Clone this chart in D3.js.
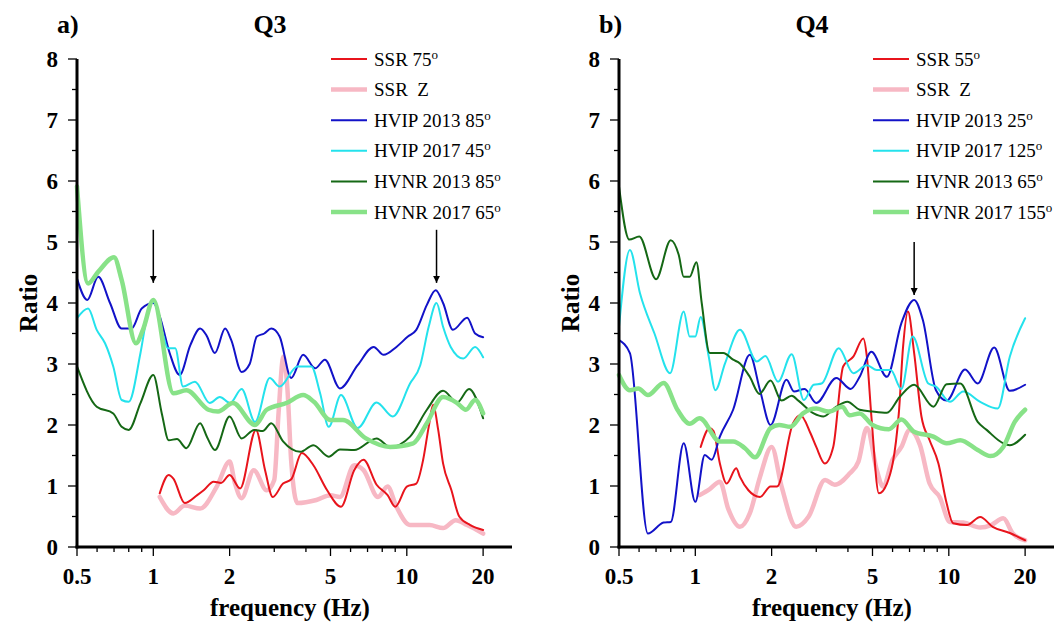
<!DOCTYPE html>
<html><head><meta charset="utf-8">
<script src="https://cdn.jsdelivr.net/npm/d3@7"></script>
<style>
body{margin:0;background:#fff}
svg{display:block}
text{font-family:"Liberation Serif","Times New Roman",serif;fill:#000}
</style>
</head><body>
<svg id="c" width="1055" height="624"></svg>
<script>
// ---------- tick values ----------
const xTicks = [0.5, 1, 2, 5, 10, 20];
const xMinorTicks = [0.6, 0.7, 0.8, 0.9, 3, 4, 6, 7, 8, 9];
const yTicks = [0, 1, 2, 3, 4, 5, 6, 7, 8];
const yMinorTicks = [0.5, 1.5, 2.5, 3.5, 4.5, 5.5, 6.5, 7.5];

// ---------- Q3 series [frequency, ratio] ----------
const q3Ssr75 = [[1.06,0.88],[1.15,1.18],[1.2,1.12],[1.33,0.72],[1.49,0.85],[1.58,0.93],[1.73,1.07],[1.85,1.05],[2.0,1.18],[2.2,0.96],[2.54,1.92],[2.76,1.26],[2.96,0.82],[3.25,1.04],[3.5,1.11],[3.85,1.54],[4.28,1.34],[4.85,0.93],[5.5,0.66],[6.2,1.26],[6.75,1.43],[7.6,1.02],[8.4,0.85],[9.0,0.66],[10.0,0.99],[10.9,1.04],[11.6,1.43],[12.2,1.97],[12.7,2.33],[13.3,1.92],[13.9,1.37],[15.0,0.93],[16.1,0.50],[17.8,0.36],[20,0.28]];
const q3SsrZ = [[1.06,0.82],[1.2,0.55],[1.33,0.68],[1.53,0.63],[1.78,0.99],[2.0,1.40],[2.1,1.04],[2.23,0.80],[2.49,1.26],[2.8,0.93],[3.0,1.1],[3.12,2.2],[3.26,3.12],[3.38,2.6],[3.5,1.4],[3.7,0.72],[4.4,0.77],[5.0,0.85],[5.45,0.82],[6.2,1.34],[6.75,1.26],[7.7,0.82],[8.4,0.99],[9.1,0.66],[10.3,0.36],[12.3,0.36],[13.9,0.31],[15.6,0.44],[17.3,0.36],[20,0.22]];
const q3Hvip2013 = [[0.5,4.40],[0.549,4.05],[0.606,4.43],[0.675,4.0],[0.75,3.58],[0.82,3.58],[0.90,3.91],[1.0,4.0],[1.06,3.78],[1.16,3.18],[1.27,2.82],[1.40,3.31],[1.53,3.58],[1.62,3.47],[1.75,3.18],[1.92,3.58],[2.03,3.39],[2.23,2.87],[2.4,3.0],[2.56,3.45],[2.74,3.5],[2.92,3.58],[3.15,3.45],[3.5,2.77],[3.9,3.15],[4.35,2.93],[4.75,3.07],[5.45,2.60],[6.4,2.98],[7.4,3.28],[8.1,3.15],[9.1,3.28],[10.1,3.45],[10.9,3.56],[12.0,3.97],[13.0,4.21],[13.9,4.0],[15.2,3.56],[17.3,3.76],[18.6,3.50],[20,3.44]];
const q3Hvip2017 = [[0.5,3.75],[0.553,3.91],[0.598,3.56],[0.645,3.34],[0.695,2.96],[0.75,2.41],[0.80,2.38],[0.89,3.18],[0.95,3.83],[1.0,4.02],[1.09,3.50],[1.14,3.26],[1.22,3.26],[1.31,2.63],[1.46,2.71],[1.67,2.36],[1.83,2.46],[2.01,2.36],[2.23,2.59],[2.52,2.05],[2.88,2.77],[3.15,2.63],[3.7,2.96],[4.2,2.96],[4.55,2.52],[4.92,1.97],[5.5,2.49],[6.4,1.95],[7.6,2.37],[8.8,2.14],[10.3,2.68],[11.3,2.98],[12.2,3.61],[13.1,4.0],[13.9,3.61],[14.9,3.28],[16.7,3.09],[18.6,3.28],[20,3.11]];
const q3Hvnr2013 = [[0.5,2.96],[0.598,2.30],[0.695,2.19],[0.75,1.97],[0.80,1.92],[0.89,2.36],[1.0,2.82],[1.08,2.19],[1.15,1.75],[1.24,1.77],[1.35,1.62],[1.53,2.03],[1.63,1.8],[1.75,1.59],[2.0,2.14],[2.23,1.78],[2.5,1.92],[2.7,1.9],[2.92,2.03],[3.25,1.73],[3.8,1.56],[4.28,1.67],[4.92,1.48],[5.45,1.60],[6.2,1.59],[7.6,1.78],[8.6,1.64],[10.3,1.81],[12.0,2.25],[13.9,2.56],[15.8,2.37],[17.6,2.59],[20,2.11]];
const q3Hvnr2017 = [[0.5,5.91],[0.553,4.32],[0.606,4.51],[0.70,4.75],[0.75,4.38],[0.854,3.34],[0.91,3.56],[1.0,4.05],[1.2,2.52],[1.35,2.57],[1.65,2.25],[1.8,2.22],[2.06,2.36],[2.52,2.0],[2.8,2.25],[3.35,2.36],[3.9,2.49],[4.3,2.38],[5.0,2.08],[5.6,2.08],[6.9,1.78],[8.6,1.64],[10.6,1.70],[12.0,2.03],[13.9,2.46],[15.8,2.36],[17.1,2.25],[18.6,2.41],[20,2.19]];

// ---------- Q4 series ----------
const q4Ssr55 = [[1.05,1.64],[1.14,1.95],[1.18,1.9],[1.25,1.37],[1.33,1.04],[1.45,1.29],[1.5,1.15],[1.62,0.93],[1.8,0.82],[1.98,0.99],[2.1,0.99],[2.43,2.03],[2.6,2.16],[2.85,1.86],[3.0,1.64],[3.24,1.37],[3.5,1.64],[3.83,2.96],[4.2,3.12],[4.6,3.42],[4.75,3.12],[4.95,2.14],[5.3,0.88],[5.7,1.04],[6.35,2.19],[6.6,3.28],[6.9,3.86],[7.3,3.18],[7.8,2.14],[8.4,1.75],[9.1,1.37],[9.8,0.72],[10.4,0.39],[11.8,0.36],[13.3,0.49],[14.9,0.33],[17.4,0.23],[20,0.11]];
const q4SsrZ = [[1.04,0.85],[1.14,0.95],[1.25,1.07],[1.35,0.62],[1.5,0.33],[1.64,0.55],[1.8,1.15],[2.0,1.64],[2.19,0.99],[2.5,0.33],[2.8,0.50],[3.25,1.10],[3.55,1.02],[4.05,1.2],[4.4,1.4],[4.75,1.95],[5.2,1.26],[5.5,0.99],[6.0,1.43],[6.5,1.64],[7.0,1.92],[7.7,1.67],[8.4,1.04],[9.2,0.82],[10.1,0.41],[11.4,0.40],[13.3,0.32],[14.7,0.36],[16.4,0.47],[17.9,0.22],[20,0.11]];
const q4Hvip2013 = [[0.5,3.39],[0.552,3.18],[0.65,0.22],[0.75,0.40],[0.80,0.41],[0.90,1.70],[1.0,0.74],[1.09,1.51],[1.16,1.43],[1.25,1.81],[1.41,2.25],[1.64,3.15],[1.80,2.57],[1.98,2.0],[2.29,2.74],[2.45,2.55],[2.7,2.59],[3.0,2.36],[3.6,2.77],[4.1,2.59],[4.45,2.79],[4.95,3.20],[5.7,2.79],[6.5,3.67],[7.3,4.05],[7.9,3.72],[8.9,2.57],[9.8,2.40],[11.6,2.91],[13.0,2.68],[15.1,3.27],[17.4,2.56],[20,2.66]];
const q4Hvip2017 = [[0.5,3.61],[0.552,4.87],[0.605,4.16],[0.69,3.50],[0.795,2.85],[0.90,3.86],[0.95,3.45],[1.0,3.45],[1.05,3.77],[1.13,3.12],[1.20,2.57],[1.31,3.01],[1.5,3.56],[1.75,3.04],[1.89,3.13],[2.12,2.71],[2.4,3.16],[2.68,2.41],[2.93,2.66],[3.15,2.68],[3.68,3.26],[4.2,2.85],[4.75,2.98],[5.2,2.90],[5.9,2.90],[6.5,2.59],[7.2,3.45],[8.3,2.68],[8.9,2.63],[10.1,2.38],[11.4,2.55],[13.3,2.38],[15.6,2.27],[17.4,3.12],[20,3.75]];
const q4Hvnr2013 = [[0.5,5.91],[0.549,5.04],[0.601,5.09],[0.70,4.39],[0.80,5.03],[0.86,4.79],[0.90,4.43],[0.95,4.43],[1.01,4.67],[1.06,4.0],[1.14,3.18],[1.29,3.18],[1.41,3.07],[1.5,3.01],[1.64,2.79],[1.79,2.51],[1.98,2.73],[2.19,2.40],[2.4,2.48],[2.55,2.4],[2.93,2.19],[3.2,2.14],[3.6,2.30],[3.98,2.38],[4.45,2.25],[5.0,2.22],[5.7,2.20],[6.4,2.46],[7.3,2.66],[8.7,2.30],[9.8,2.67],[11.1,2.68],[13.0,2.05],[14.1,1.92],[16.4,1.70],[17.4,1.67],[20,1.84]];
const q4Hvnr2017 = [[0.5,2.82],[0.552,2.57],[0.596,2.60],[0.65,2.49],[0.75,2.69],[0.85,2.25],[0.95,2.02],[1.04,2.11],[1.25,1.73],[1.41,1.73],[1.57,1.62],[1.72,1.47],[1.98,1.95],[2.14,2.0],[2.37,1.97],[2.66,2.19],[3.0,2.27],[3.35,2.22],[3.8,2.3],[4.05,2.16],[4.45,2.19],[5.0,2.0],[5.8,1.93],[6.5,2.09],[7.3,1.89],[8.7,1.81],[9.8,1.70],[11.1,1.75],[13.0,1.59],[14.6,1.49],[16.4,1.64],[18.2,2.05],[20,2.25]];

// ---------- legends & arrows ----------
const q3Labels = [["SSR 75","o"],["SSR  Z",""],["HVIP 2013 85","o"],["HVIP 2017 45","o"],["HVNR 2013 85","o"],["HVNR 2017 65","o"]];
const q4Labels = [["SSR 55","o"],["SSR  Z",""],["HVIP 2013 25","o"],["HVIP 2017 125","o"],["HVNR 2013 65","o"],["HVNR 2017 155","o"]];
const q3Arrows = [[1.0, 5.2, 4.33], [13.1, 5.2, 4.33]];  // [freq, from ratio, to ratio]
const q4Arrows = [[7.3, 5.0, 4.13]];

const colors = ["#e8141c", "#f7b8c4", "#1212c8", "#24e2ec", "#156815", "#88e288"];
const widths = [2, 4.5, 2, 2, 2, 4.5];
const drawOrder = [1, 0, 2, 3, 4, 5];

const svg = d3.select("#c");
const W = 435, H = 488;

svg.append("defs").append("marker")
  .attr("id", "ah").attr("viewBox", "0 0 10 10").attr("refX", 10).attr("refY", 5)
  .attr("markerWidth", 7).attr("markerHeight", 8).attr("markerUnits", "userSpaceOnUse")
  .attr("orient", "auto")
  .append("path").attr("d", "M0,0 L10,5 L0,10 z").attr("fill", "#000");

function panel(ox, oy, letter, title, series, labels, arrows) {
  const g = svg.append("g").attr("transform", `translate(${ox},${oy})`);
  const x = d3.scaleLog().domain([0.5, 26]).range([0, W]);
  const y = d3.scaleLinear().domain([0, 8]).range([H, 0]);

  // y ticks
  g.selectAll(".ym").data(yTicks).join("line")
    .attr("x1", -9).attr("x2", 0).attr("y1", d => y(d)).attr("y2", d => y(d))
    .attr("stroke", "#000").attr("stroke-width", 1.3);
  g.selectAll(".yn").data(yMinorTicks).join("line")
    .attr("x1", -5).attr("x2", 0).attr("y1", d => y(d)).attr("y2", d => y(d))
    .attr("stroke", "#000").attr("stroke-width", 1.3);
  g.selectAll(".yl").data(yTicks).join("text")
    .attr("x", -19).attr("y", d => y(d)).attr("dy", "0.35em")
    .attr("text-anchor", "end").attr("font-size", 23).attr("font-weight", "bold")
    .text(d => d);

  // x ticks
  g.selectAll(".xm").data(xTicks).join("line")
    .attr("x1", d => x(d)).attr("x2", d => x(d)).attr("y1", H).attr("y2", H + 9)
    .attr("stroke", "#000").attr("stroke-width", 1.3);
  g.selectAll(".xn").data(xMinorTicks).join("line")
    .attr("x1", d => x(d)).attr("x2", d => x(d)).attr("y1", H).attr("y2", H + 5)
    .attr("stroke", "#000").attr("stroke-width", 1.3);
  g.selectAll(".xl").data(xTicks).join("text")
    .attr("x", d => x(d)).attr("y", H + 37)
    .attr("text-anchor", "middle").attr("font-size", 23).attr("font-weight", "bold")
    .text(d => d);

  // series
  const line = d3.line().x(d => x(d[0])).y(d => y(d[1])).curve(d3.curveMonotoneX);
  drawOrder.forEach(i => {
    g.append("path").datum(series[i]).attr("d", line)
      .attr("fill", "none").attr("stroke", colors[i]).attr("stroke-width", widths[i])
      .attr("stroke-linejoin", "round").attr("stroke-linecap", "round");
  });

  // axes lines
  g.append("line").attr("x1", 0).attr("x2", 0).attr("y1", y(8)).attr("y2", H + 1.5)
    .attr("stroke", "#000").attr("stroke-width", 3);
  g.append("line").attr("x1", -1.5).attr("x2", W).attr("y1", H).attr("y2", H)
    .attr("stroke", "#000").attr("stroke-width", 3);

  // arrows
  g.selectAll(".ar").data(arrows).join("line")
    .attr("x1", d => x(d[0])).attr("x2", d => x(d[0]))
    .attr("y1", d => y(d[1])).attr("y2", d => y(d[2]))
    .attr("stroke", "#000").attr("stroke-width", 1.5).attr("marker-end", "url(#ah)");

  // legend
  const lg = g.append("g").attr("transform", "translate(254,0)");
  labels.forEach((lab, i) => {
    const cy = i * 30.6;
    lg.append("line").attr("x1", 0).attr("x2", 36).attr("y1", cy).attr("y2", cy)
      .attr("stroke", colors[i]).attr("stroke-width", widths[i] > 3 ? 4.5 : 2);
    const t = lg.append("text").attr("x", 43).attr("y", cy + 6.5).attr("font-size", 19)
      .attr("xml:space", "preserve").style("white-space", "pre");
    t.append("tspan").text(lab[0]);
    if (lab[1]) t.append("tspan").attr("dy", -7).attr("font-size", 13).text(lab[1]);
  });

  // titles
  g.append("text").attr("x", -20).attr("y", -26).attr("font-size", 26).attr("font-weight", "bold").text(letter);
  g.append("text").attr("x", 193).attr("y", -26).attr("text-anchor", "middle")
    .attr("font-size", 26).attr("font-weight", "bold").text(title);
  g.append("text").attr("x", 213).attr("y", H + 69).attr("text-anchor", "middle")
    .attr("font-size", 25).attr("font-weight", "bold").text("frequency (Hz)");
  g.append("text").attr("transform", `translate(-40,${y(4)}) rotate(-90)`)
    .attr("text-anchor", "middle").attr("font-size", 25).attr("font-weight", "bold").text("Ratio");
}

panel(77, 59, "a)", "Q3",
  [q3Ssr75, q3SsrZ, q3Hvip2013, q3Hvip2017, q3Hvnr2013, q3Hvnr2017], q3Labels, q3Arrows);
panel(619, 59, "b)", "Q4",
  [q4Ssr55, q4SsrZ, q4Hvip2013, q4Hvip2017, q4Hvnr2013, q4Hvnr2017], q4Labels, q4Arrows);
</script>
</body></html>
